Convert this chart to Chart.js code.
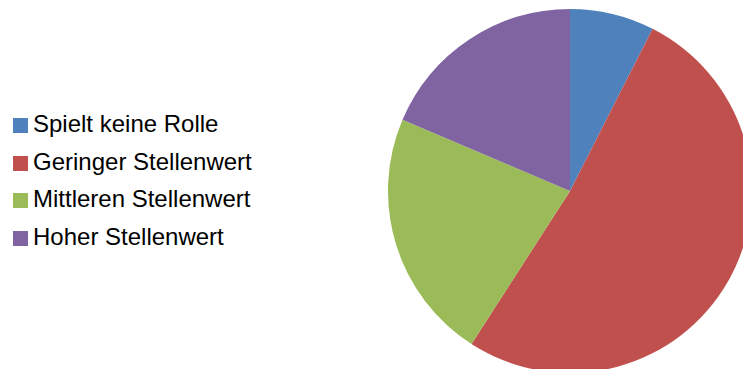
<!DOCTYPE html>
<html>
<head>
<meta charset="utf-8">
<script src="https://cdn.jsdelivr.net/npm/chart.js@4.4.1/dist/chart.umd.min.js"></script>
<style>
  html, body { margin: 0; padding: 0; background: #fff; overflow: hidden; }
  #frame { position: relative; width: 743px; height: 369px; overflow: hidden; background: #fff; }
  #pieBox { position: absolute; left: 388px; top: 9px; width: 364px; height: 364px; }
  #legend {
    position: absolute; left: 13px; top: 106.7px; margin: 0; padding: 0; list-style: none;
    font-family: "Liberation Sans", Arial, sans-serif; font-size: 24px; color: #000;
  }
  #legend li { display: flex; align-items: center; height: 37.67px; }
  #legend .sw { width: 15px; height: 15px; margin-right: 5px; flex: none; }
  #legend .tx { position: relative; top: -1.5px; white-space: nowrap; }
</style>
</head>
<body>
<div id="frame">
  <ul id="legend"></ul>
  <div id="pieBox"><canvas id="pie" width="364" height="364"></canvas></div>
</div>
<script>
// Survey answers: how important the topic is (share of respondents, %)
const categories = ['Spielt keine Rolle', 'Geringer Stellenwert', 'Mittleren Stellenwert', 'Hoher Stellenwert'];
const shares = [7.5, 51.6, 22.3, 18.6];
const sliceColors = ['#4F81BD', '#C0504D', '#9BBB59', '#8064A2'];

const chart = new Chart(document.getElementById('pie'), {
  type: 'pie',
  data: {
    labels: categories,
    datasets: [{
      data: shares,
      backgroundColor: sliceColors,
      borderWidth: 0,
      hoverOffset: 0
    }]
  },
  options: {
    responsive: false,
    animation: false,
    devicePixelRatio: 1,
    events: [],
    layout: { padding: 0 },
    plugins: {
      legend: { display: false },
      tooltip: { enabled: false }
    }
  }
});

// Legend list built from the chart's own legend items
const legendEl = document.getElementById('legend');
const items = chart.options.plugins.legend.labels.generateLabels(chart);
items.forEach(item => {
  const li = document.createElement('li');
  const sw = document.createElement('span');
  sw.className = 'sw';
  sw.style.background = item.fillStyle;
  const tx = document.createElement('span');
  tx.className = 'tx';
  tx.textContent = item.text;
  li.appendChild(sw);
  li.appendChild(tx);
  legendEl.appendChild(li);
});
</script>
</body>
</html>
